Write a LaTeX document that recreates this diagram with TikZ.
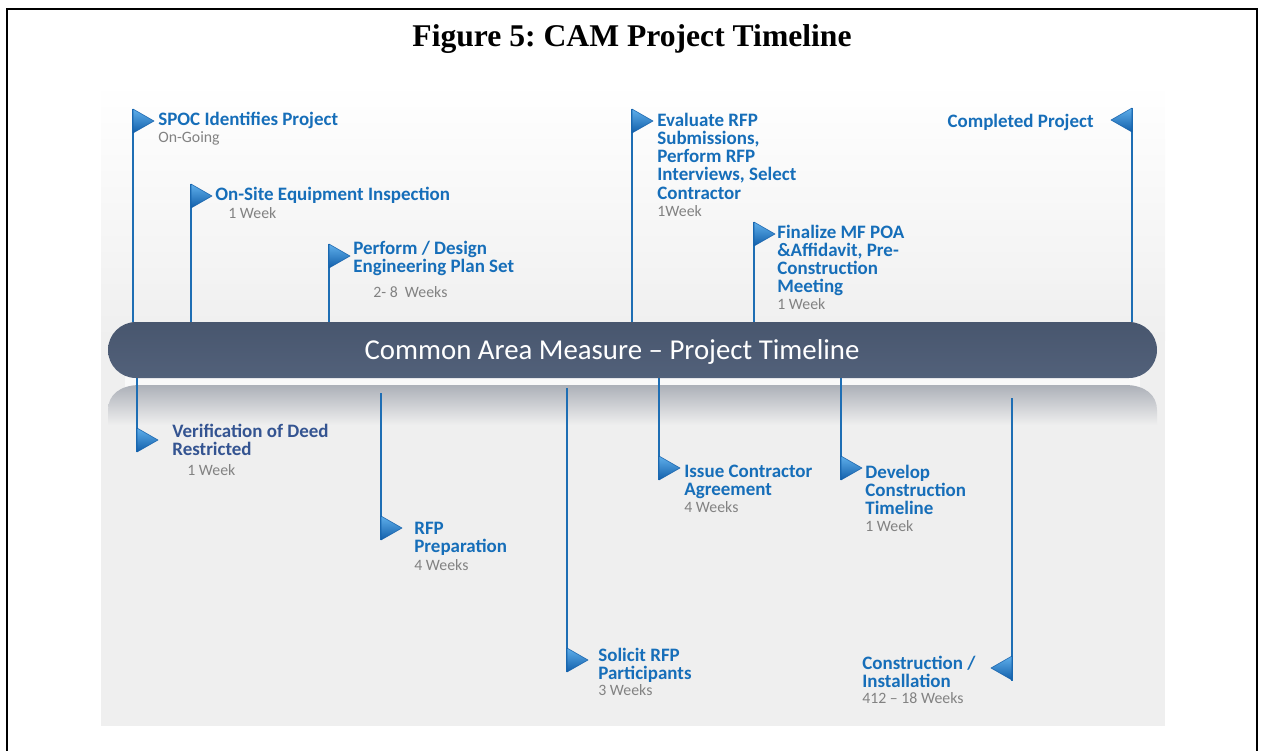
\documentclass[tikz,border=0pt]{standalone}
\usepackage{fontspec}
\setmainfont{Carlito}
\newfontfamily\titlefont{Liberation Serif}
\frenchspacing

\definecolor{labelblue}{RGB}{22,110,185}
\definecolor{deedblue}{RGB}{52,84,145}
\definecolor{durgrey}{RGB}{130,130,130}
\definecolor{poleblue}{RGB}{30,110,180}
\definecolor{flaglight}{RGB}{95,175,235}
\definecolor{flagdark}{RGB}{18,95,170}
\definecolor{panelgrey}{RGB}{239,239,239}
\definecolor{shadowgrey}{RGB}{172,176,184}
\definecolor{bartop}{RGB}{72,86,110}
\definecolor{barbottom}{RGB}{82,97,122}

\begin{document}
\begin{tikzpicture}[x=0.02cm,y=-0.02cm,
  milestone/.style={font=\fontsize{10.8}{10.4}\selectfont\bfseries,text=labelblue,align=left,anchor=north west,inner sep=0pt},
  duration/.style={font=\fontsize{9}{10}\selectfont,text=durgrey,anchor=base west,inner sep=0pt},
  pole/.style={draw=poleblue,line width=1.4pt},
  pennant/.style={top color=flaglight,bottom color=flagdark,draw=flagdark,line width=0.3pt,line join=round}]
  \useasboundingbox (0,0) rectangle (1262,751);
  % page frame, open at the bottom
  \draw[line width=1.1pt] (7,751) -- (7,9) -- (1257,9) -- (1257,751);
  \node[font=\titlefont\fontsize{18}{20}\selectfont\bfseries,anchor=base,inner sep=0pt] (title) at (632,46) {Figure 5: CAM Project Timeline};

  % backdrop
  \shade[top color=white,bottom color=panelgrey] (101,82) rectangle (1165,340);
  \fill[panelgrey] (101,340) rectangle (1165,726);
  \fill[white!60!panelgrey] (125,376) rectangle (1140,387);
  % reflection under the bar
  \shade[top color=shadowgrey,bottom color=panelgrey] (108,425) -- (108,410)
    .. controls (108,395) and (120,385) .. (140,385) -- (1125,385)
    .. controls (1145,385) and (1157,395) .. (1157,410) -- (1157,425) -- cycle;

  % poles with pennants
  \foreach \px/\ya/\yb/\fy/\d in {133/109/322/109/1, 191/184/322/184/1, 329/244/322/244/1,
      632/109/322/109/1, 754/222/322/222/1, 1132/108/322/108/-1,
      137/378/452/428/1, 381/393/540/516/1, 567/388/672/648/1,
      659/378/480/456/1, 841/378/480/456/1, 1012/398/681/656/-1}{
    \draw[pole] (\px,\ya) -- (\px,\yb);
    \shade[pennant] (\px,\fy) -- ++(21*\d,12) -- ++(-21*\d,12) -- cycle;
  }

  % timeline bar
  \shade[top color=bartop,bottom color=barbottom,rounded corners=0.56cm] (108,322) rectangle (1157,378);
  \node[font=\fontsize{16.4}{18}\selectfont,text=white,anchor=base,inner sep=0pt] (bartitle) at (612,359) {Common Area Measure – Project Timeline};

  % milestones above the bar
  \node[milestone] (spoc) at (158,111.5) {SPOC Identifies Project};
  \node[duration] (spocdur) at (158,142) {On-Going};
  \node[milestone] (onsite) at (215,186.5) {On-Site Equipment Inspection};
  \node[duration] (onsitedur) at (228,218) {1 Week};
  \node[milestone] (design) at (353,240.5) {Perform / Design\\Engineering Plan Set};
  \node[duration] (designdur) at (373,297) {2- 8~ Weeks};
  \node[milestone] (evaluate) at (657,112.5) {Evaluate RFP\\Submissions,\\Perform RFP\\Interviews, Select\\Contractor};
  \node[duration] (evaluatedur) at (657,216) {1Week};
  \node[milestone] (finalize) at (777,224.5) {Finalize MF POA\\\&Affidavit, Pre-\\Construction\\Meeting};
  \node[duration] (finalizedur) at (777,309) {1 Week};
  \node[milestone,anchor=north east] (completed) at (1094,113.5) {Completed Project};

  % milestones below the bar
  \node[milestone,text=deedblue] (deed) at (172,423.5) {Verification of Deed\\Restricted};
  \node[duration] (deeddur) at (187,475) {1 Week};
  \node[milestone] (rfpprep) at (414,522) {RFP\\Preparation};
  \node[duration] (rfpprepdur) at (414,570) {4 Weeks};
  \node[milestone] (solicit) at (598,647.5) {Solicit RFP\\Participants};
  \node[duration] (solicitdur) at (598,695) {3 Weeks};
  \node[milestone] (issue) at (684,464.5) {Issue Contractor\\Agreement};
  \node[duration] (issuedur) at (684,512) {4 Weeks};
  \node[milestone] (develop) at (865,464.5) {Develop\\Construction\\Timeline};
  \node[duration] (developdur) at (865,531) {1 Week};
  \node[milestone] (install) at (862,655.5) {Construction /\\Installation};
  \node[duration] (installdur) at (862,703) {412 – 18 Weeks};
\end{tikzpicture}
\end{document}
